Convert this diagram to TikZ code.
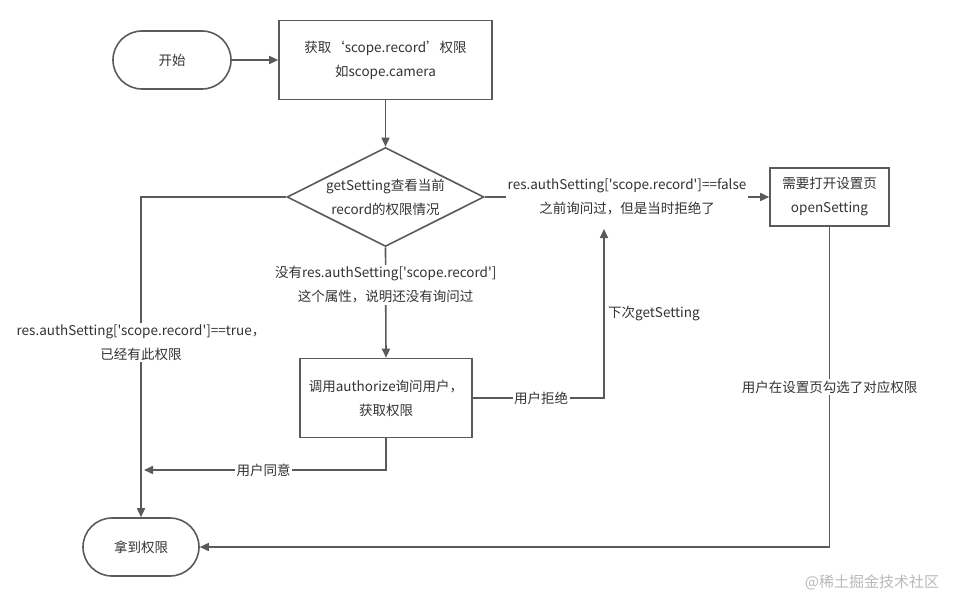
\documentclass[tikz,border=0pt]{standalone}
\usepackage{fontspec}
\setmainfont{Noto Sans CJK SC}[Ligatures=TeXOff]
\usetikzlibrary{arrows.meta,shapes.geometric}

\definecolor{linegray}{HTML}{5A5A5A}
\definecolor{textgray}{HTML}{333333}
\newcommand\flowfont{\fontsize{13.5}{24}\selectfont}

\begin{document}
\begin{tikzpicture}[x=1pt,y=-1pt,>={Triangle[length=9pt,width=8pt]},
    term/.style={rectangle,rounded corners=29pt,draw=linegray,line width=1.6pt,
                 minimum width=118pt,minimum height=58pt,font=\flowfont,text=textgray},
    proc/.style={rectangle,draw=linegray,line width=1.6pt,align=center,
                 font=\flowfont,text=textgray},
    decision/.style={diamond,aspect=2,draw=linegray,line width=1.6pt,inner sep=0pt,
                 minimum width=197pt,minimum height=99pt,align=center,
                 font=\flowfont,text=textgray},
    lbl/.style={fill=white,inner sep=1.5pt,align=center,font=\flowfont,text=textgray},
    flow/.style={->,draw=linegray,line width=1.6pt}]

  \useasboundingbox (0,0) rectangle (960,604);

  \node[term] (start) at (172,60) {开始};
  \node[proc,minimum width=213pt,minimum height=79pt] (fetch) at (385.5,60)
       {获取‘scope.record’权限\\如scope.camera};
  \node[decision] (check) at (385.5,197) {getSetting查看当前\\record的权限情况};
  \node[proc,minimum width=119pt,minimum height=58pt] (opens) at (829.5,197)
       {需要打开设置页\\openSetting};
  \node[proc,minimum width=172pt,minimum height=79pt] (ask) at (386,398)
       {调用authorize询问用户，\\获取权限};
  \node[term,minimum width=116pt] (got) at (141,547) {拿到权限};
  \coordinate (retry) at (604,229);
  \coordinate (agree) at (141,470);

  \node[text=gray!55,font=\fontsize{15}{15}\selectfont] (mark) at (872,582) {@稀土掘金技术社区};

  \draw[flow] (start) -- (fetch);
  \draw[flow] (fetch) -- (check);
  \draw[flow] (check.east) -- node[lbl,pos=0.5]
       {res.authSetting['scope.record']==false\\之前询问过，但是当时拒绝了} (opens.west);
  \draw[flow] (check.west) -| node[lbl,pos=0.727]
       {res.authSetting['scope.record']==true，\\已经有此权限} (got.north);
  \draw[flow] (check.south) -- node[lbl,pos=0.34]
       {没有res.authSetting['scope.record']\\这个属性，说明还没有询问过} (ask.north);
  \draw[flow] (ask.east) -| node[lbl,pos=0.26] {用户拒绝}
       node[right,pos=0.75,font=\flowfont,text=textgray] {下次getSetting} (retry);
  \draw[flow,shorten >=3pt] (ask.south) |- node[lbl,pos=0.75] {用户同意} (agree);
  \draw[flow] (opens.south) |- node[lbl,pos=0.25] {用户在设置页勾选了对应权限} (got.east);
\end{tikzpicture}
\end{document}
